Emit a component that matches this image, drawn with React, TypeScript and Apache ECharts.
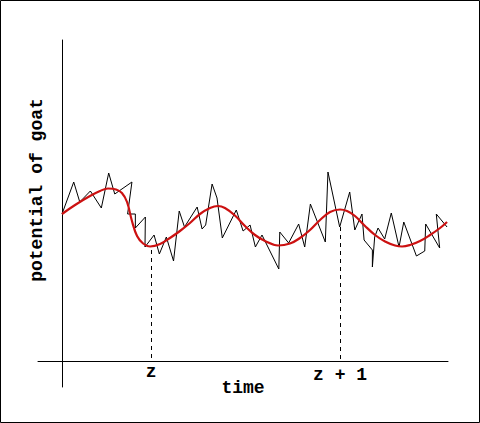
import React, { useEffect, useRef } from "react";
import * as echarts from "echarts";

// time in units where y-axis sits at 0 and z -> z+1 is one unit
const noiseT = [0, 0.062, 0.094, 0.15, 0.208, 0.247, 0.279, 0.37, 0.347, 0.388, 0.388, 0.441, 0.439, 0.487, 0.515, 0.552, 0.59, 0.62, 0.648, 0.715, 0.741, 0.76, 0.794, 0.82, 0.848, 0.922, 0.958, 0.995, 1.023, 1.058, 1.147, 1.152, 1.199, 1.252, 1.284, 1.314, 1.393, 1.407, 1.469, 1.522, 1.549, 1.587, 1.598, 1.642, 1.642, 1.654, 1.672, 1.707, 1.742, 1.783, 1.808, 1.875, 1.919, 1.924, 1.998, 1.98, 2.037];
const noiseV = [1.47, 1.79, 1.59, 1.7, 1.53, 1.88, 1.67, 1.79, 1.47, 1.47, 1.33, 1.44, 1.14, 1.26, 1.07, 1.24, 1.0, 1.5, 1.34, 1.54, 1.32, 1.36, 1.77, 1.63, 1.23, 1.51, 1.3, 1.36, 1.14, 1.26, 0.92, 1.29, 1.18, 1.37, 1.14, 1.57, 1.19, 1.89, 1.34, 1.69, 1.31, 1.47, 1.21, 1.11, 0.94, 1.24, 1.33, 1.22, 1.48, 1.14, 1.39, 1.05, 1.1, 1.37, 1.13, 1.47, 1.34];

const smoothT = [0, 0.069, 0.148, 0.201, 0.243, 0.286, 0.317, 0.344, 0.37, 0.397, 0.429, 0.466, 0.519, 0.571, 0.624, 0.677, 0.73, 0.783, 0.825, 0.862, 0.915, 0.968, 1.021, 1.074, 1.143, 1.206, 1.259, 1.312, 1.365, 1.418, 1.471, 1.508, 1.55, 1.603, 1.656, 1.709, 1.762, 1.799, 1.841, 1.894, 1.947, 2.0, 2.037];
const smoothV = [1.47, 1.56, 1.65, 1.7, 1.725, 1.715, 1.68, 1.59, 1.4, 1.25, 1.175, 1.145, 1.17, 1.23, 1.3, 1.38, 1.47, 1.53, 1.55, 1.53, 1.455, 1.35, 1.26, 1.2, 1.155, 1.175, 1.23, 1.31, 1.41, 1.49, 1.515, 1.5, 1.45, 1.35, 1.26, 1.195, 1.155, 1.145, 1.16, 1.2, 1.26, 1.33, 1.39];

const tickValues = [0.471, 1.471];
const tickLabels = ["z", "z + 1"];
const dropStart = [1.11, 1.34];
const xTitle = "time";
const yTitle = "potential of goat";

const FONT = "Liberation Mono";

export default function App() {
  const ref = useRef<HTMLDivElement>(null);
  useEffect(() => {
    if (!ref.current) return;
    const chart = echarts.init(ref.current, undefined, { renderer: "svg" });
    const noise = noiseT.map((t, i) => [t, noiseV[i]]);
    const smooth = smoothT.map((t, i) => [t, smoothV[i]]);
    const titleStyle = { fontFamily: FONT, fontWeight: "bold", fontSize: 18, fill: "#000", align: "center", verticalAlign: "middle" };
    chart.setOption({
      animation: false,
      backgroundColor: "#ffffff",
      grid: { left: 38, right: 32, top: 40, bottom: 36, containLabel: false, outerBoundsMode: "none" },
      xAxis: {
        type: "value",
        min: -0.127,
        max: 2.042,
        splitLine: { show: false },
        axisTick: { show: false },
        axisLine: { onZero: true, lineStyle: { color: "#000", width: 1 } },
        axisLabel: {
          customValues: tickValues,
          margin: -21,
          formatter: (v: number) => {
            let best = 0;
            tickValues.forEach((tv, i) => {
              if (Math.abs(tv - v) < Math.abs(tickValues[best] - v)) best = i;
            });
            return best === 0 ? "{a|" + tickLabels[best] + "}" : "{b|" + tickLabels[best] + "}";
          },
          rich: {
            a: { fontFamily: FONT, fontWeight: "bold", fontSize: 18, color: "#000", padding: [-3, 0, 0, 0] },
            b: { fontFamily: FONT, fontWeight: "bold", fontSize: 18, color: "#000" },
          },
        },
      },
      yAxis: {
        type: "value",
        min: -0.26,
        max: 3.21,
        splitLine: { show: false },
        axisTick: { show: false },
        axisLabel: { show: false },
        axisLine: { show: true, onZero: true, lineStyle: { color: "#000", width: 1 } },
      },
      graphic: [
        {
          type: "rect",
          shape: { x: 0.5, y: 0.5, width: 479, height: 422 },
          style: { fill: "none", stroke: "#000", lineWidth: 1 },
          silent: true,
        },
        {
          type: "text",
          x: 37,
          y: 190,
          rotation: Math.PI / 2,
          style: { ...titleStyle, text: yTitle },
        },
        {
          type: "text",
          x: 243,
          y: 388,
          style: { ...titleStyle, text: xTitle },
        },
      ],
      series: [
        {
          type: "line",
          data: noise,
          symbol: "none",
          lineStyle: { color: "#000", width: 1 },
          z: 2,
          markLine: {
            silent: true,
            symbol: "none",
            label: { show: false },
            lineStyle: { color: "#000", width: 1, type: [4, 4] },
            data: tickValues.map((t, i) => [
              { coord: [t, dropStart[i]] },
              { coord: [t, 0] },
            ]),
          },
        },
        {
          type: "line",
          data: smooth,
          symbol: "none",
          smooth: 0.4,
          lineStyle: { color: "#cc1111", width: 2.2 },
          z: 3,
        },
      ],
    });
    return () => chart.dispose();
  }, []);
  return <div ref={ref} style={{ position: "fixed", left: 0, top: 0, width: 480, height: 423 }} />;
}
